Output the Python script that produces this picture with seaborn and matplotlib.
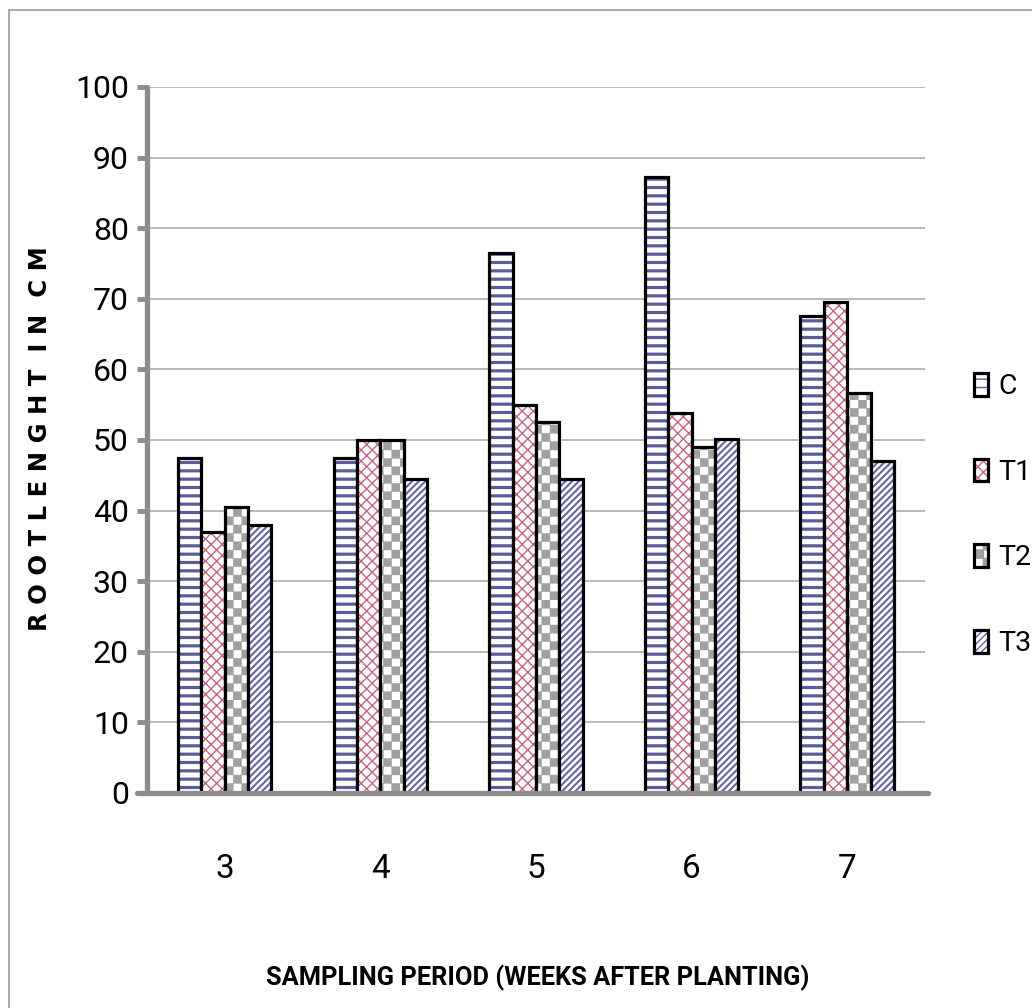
import warnings
import numpy as np
import pandas as pd
import seaborn as sns
import matplotlib
matplotlib.use("Agg")
import matplotlib.pyplot as plt
import matplotlib.colors as mcolors
from matplotlib import hatch as mhatch
from matplotlib.path import Path
from matplotlib.patches import Rectangle

warnings.filterwarnings("ignore")

# Root length (cm) by sampling week and treatment
weeks = ["3", "4", "5", "6", "7"]
treatments = ["C", "T1", "T2", "T3"]
root_c = [47.5, 47.5, 76.5, 87.3, 67.5]
root_t1 = [37.0, 50.0, 55.0, 53.8, 69.5]
root_t2 = [40.5, 50.0, 52.6, 49.0, 56.7]
root_t3 = [38.0, 44.5, 44.5, 50.2, 47.0]
y_ticks = [0, 10, 20, 30, 40, 50, 60, 70, 80, 90, 100]


class CheckerHatch(mhatch.HatchPatternBase):
    """Filled checkerboard squares, selected with the 'c' hatch character."""

    def __init__(self, hatch, density):
        self.num_cells = hatch.count("c") * density
        self.num_vertices = 10 * self.num_cells ** 2

    def set_vertices_and_codes(self, vertices, codes):
        m = 2 * self.num_cells
        s = 1.0 / m
        k = 0
        for i in range(m):
            for j in range(m):
                if (i + j) % 2 == 0:
                    x0, y0 = i * s, j * s
                    vertices[k:k + 5] = [[x0, y0], [x0 + s, y0], [x0 + s, y0 + s],
                                         [x0, y0 + s], [x0, y0]]
                    codes[k:k + 5] = [Path.MOVETO, Path.LINETO, Path.LINETO,
                                      Path.LINETO, Path.CLOSEPOLY]
                    k += 5


mhatch._hatch_types.append(CheckerHatch)

df = pd.DataFrame({
    "week": np.repeat(weeks, len(treatments)),
    "treatment": treatments * len(weeks),
    "length": np.ravel(np.column_stack([root_c, root_t1, root_t2, root_t3])),
})

sns.set_theme(style="white")
base_font = ["Roboto", "DejaVu Sans"]
plt.rcParams["font.family"] = base_font
plt.rcParams["text.color"] = "black"

fig = plt.figure(figsize=(10.32, 10.08), dpi=100)
ax = fig.add_axes([0.1424, 0.2133, 0.7539, 0.7004])

sns.barplot(data=df, x="week", y="length", hue="treatment", order=weeks,
            hue_order=treatments, palette=["white"] * 4, width=0.6, gap=0,
            saturation=1, errorbar=None, legend=False, ax=ax)

styles = {
    "C": ("--", "#5c5c9a", 2.3),
    "T1": ("xxx", "#c4648a", 1.0),
    "T2": ("c", "#a0a0a0", 0.3),
    "T3": ("/////", "#6464a6", 1.5),
}
for cont, name in zip(ax.containers, treatments):
    hpat, hcol, hlw = styles[name]
    for bar in cont:
        bar.set_hatch(hpat)
        bar.set_edgecolor("black")
        bar.set_linewidth(2.3)
        bar._hatch_color = mcolors.to_rgba(hcol)
        if hasattr(bar, "set_hatch_linewidth"):
            bar.set_hatch_linewidth(hlw)
        else:
            bar._hatch_linewidth = hlw

ax.set_ylim(0, 100)
ax.set_xlim(-0.5, 4.5)
ax.set_yticks(y_ticks)
ax.set_yticklabels([str(v) for v in y_ticks], fontsize=23)
ax.set_xticks(range(len(weeks)))
ax.set_xticklabels(weeks, fontsize=24)
ax.tick_params(axis="y", length=7, width=3.5, color="#8c8c8c", pad=6, left=True,
               labelcolor="black")
ax.tick_params(axis="x", length=0, pad=43, labelcolor="black")
ax.yaxis.grid(True, color="#ababab", linewidth=1.2)
ax.set_axisbelow(True)

for side in ("top", "right"):
    ax.spines[side].set_visible(False)
for side in ("left", "bottom"):
    ax.spines[side].set_color("#8c8c8c")
    ax.spines[side].set_linewidth(3.8)
    ax.spines[side].set_capstyle("round")
ax.spines["bottom"].set_bounds(-0.565, 4.52)

ax.set_xlabel("")
ax.set_ylabel("")
fig.text(0.521, 0.030, "SAMPLING PERIOD (WEEKS AFTER PLANTING)", ha="center",
         va="center", fontsize=18.3, fontweight="bold", family=base_font)
fig.text(0.039, 0.565, "R O O T L E N G H T  I N  C M", ha="center",
         va="center", rotation=90, fontsize=17.5, fontweight="bold",
         family=["DejaVu Sans"])

handles = [cont for cont in ax.containers]
leg = ax.legend(handles, treatments, loc="upper left",
                bbox_to_anchor=(0.930, 0.644), bbox_transform=fig.transFigure,
                frameon=False, fontsize=20.5, handlelength=0.5, handleheight=0.85,
                handletextpad=0.35, labelspacing=2.05, borderpad=0)

# Outer chart frame
fig.patches.append(Rectangle((9 / 1032, -0.01), 1.1, 1 - 10 / 1008 + 0.01,
                             transform=fig.transFigure, fill=False,
                             edgecolor="#9a9a9a", linewidth=1.2))

fig.savefig("out.png", dpi=100)
